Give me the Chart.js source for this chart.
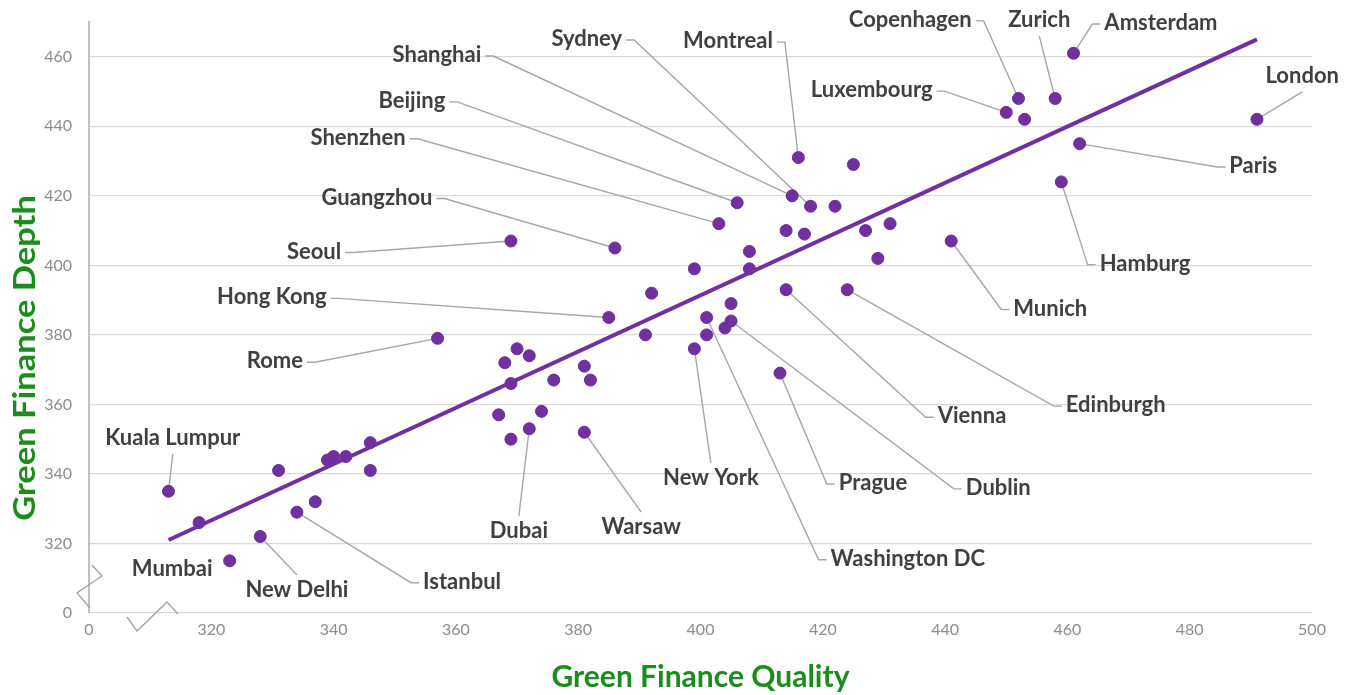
<!DOCTYPE html>
<html>
<head>
<meta charset="utf-8">
<script src="https://cdn.jsdelivr.net/npm/chart.js@4.4.0/dist/chart.umd.min.js"></script>
<style>
  body { margin: 0; background: #fff; }
  .chart-container { width: 1357px; height: 695px; }
</style>
</head>
<body>
<div class="chart-container"><canvas id="chart"></canvas></div>
<script>
/*
Values. Quality goes on x, depth on y.
*/
let cities = ["Kuala Lumpur", "Mumbai", "New Delhi", "Istanbul", "Rome", "Seoul", "Hong Kong",
              "Guangzhou", "Shenzhen", "Beijing", "Shanghai", "Sydney", "Montreal", "Copenhagen",
              "Zurich", "Amsterdam", "Luxembourg", "London", "Paris", "Hamburg", "Munich",
              "Edinburgh", "Vienna", "Dublin", "Prague", "Washington DC", "New York", "Warsaw", "Dubai"];
let cityQuality = [313, 323, 328, 334, 357, 369, 385, 386, 403, 406, 415, 418, 416, 452,
                   458, 461, 450, 491, 462, 459, 441, 424, 414, 405, 413, 401, 399, 381, 372];
let cityDepth = [335, 315, 322, 329, 379, 407, 385, 405, 412, 418, 420, 417, 431, 448,
                 448, 461, 444, 442, 435, 424, 407, 393, 393, 384, 369, 385, 376, 352, 353];

// where each name sits, in axis units, and the side its leader line leaves from
let nameQuality = [313.7, 313.6, 334.0, 361.0, 330.4, 336.8, 329.9, 347.1, 344.0, 352.8, 356.9, 381.4, 404.5, 434.3,
                   455.4, 475.3, 428.0, 498.4, 490.4, 472.7, 457.2, 467.9, 444.4, 448.7, 428.2, 433.9, 401.7, 390.3, 370.3];
let nameDepth = [350.3, 312.7, 306.7, 309.0, 372.4, 404.0, 390.8, 419.5, 436.7, 447.3, 460.5, 465.1, 464.5, 470.6,
                 470.6, 469.7, 450.4, 454.5, 428.6, 400.5, 387.6, 359.8, 356.6, 336.0, 337.4, 315.6, 338.8, 324.7, 323.6];
let nameSide = ["b", "n", "t", "l", "r", "r", "r", "r", "r", "r", "r", "r", "r", "r",
                "b", "l", "r", "b", "l", "l", "l", "l", "l", "l", "l", "l", "t", "t", "t"];

// the cities without a name on the chart
let otherQuality = [318, 331, 337, 339, 340, 342, 346, 346, 367, 369, 374, 368, 370, 372, 369, 376, 381,
                    382, 391, 392, 399, 408, 408, 404, 405, 401, 414, 417, 422, 425, 427, 431, 429, 453];
let otherDepth = [326, 341, 332, 344, 345, 345, 349, 341, 357, 350, 358, 372, 376, 374, 366, 367, 371,
                  367, 380, 392, 399, 404, 399, 382, 389, 380, 410, 409, 417, 429, 410, 412, 402, 442];

// trend line ends
let trendQuality = [313, 491];
let trendDepth = [321, 465];

let purple = "#7030a0";
let green = "#1c8c1c";
let labelFont = "bold 22px Lato";

function toPoints(xs, ys) {
  let pts = [];
  for (let i = 0; i < xs.length; i++) {
    pts.push({x: xs[i], y: ys[i]});
  }
  return pts;
}

// axes start at 300 but Excel printed them as 0 with a break
function tickText(value) {
  return value === 300 ? "0" : value;
}

// names and their leader lines
function drawNames(chart, linesOnly) {
  let ctx = chart.ctx;
  let xs = chart.scales.x, ys = chart.scales.y;
  ctx.save();
  ctx.font = labelFont;
  for (let i = 0; i < cities.length; i++) {
    let px = xs.getPixelForValue(cityQuality[i]);
    let py = ys.getPixelForValue(cityDepth[i]);
    let lx = xs.getPixelForValue(nameQuality[i]);
    let ly = ys.getPixelForValue(nameDepth[i]);
    let w = ctx.measureText(cities[i]).width;

    if (linesOnly) {
      let side = nameSide[i];
      if (side === "n") continue;
      ctx.strokeStyle = "#a6a6a6";
      ctx.lineWidth = 1.4;
      ctx.beginPath();
      if (side === "r") {
        ctx.moveTo(lx + w / 2 + 4, ly + 1);
        ctx.lineTo(lx + w / 2 + 12, ly + 1);
      } else if (side === "l") {
        ctx.moveTo(lx - w / 2 - 4, ly + 1);
        ctx.lineTo(lx - w / 2 - 12, ly + 1);
      } else if (side === "t") {
        ctx.moveTo(lx, ly - 15);
      } else {
        ctx.moveTo(lx, ly + 16);
      }
      ctx.lineTo(px, py);
      ctx.stroke();
    } else {
      ctx.fillStyle = "#404040";
      ctx.textAlign = "center";
      ctx.textBaseline = "middle";
      ctx.fillText(cities[i], lx, ly);
    }
  }
  ctx.restore();
}

let namePlugin = {
  id: "names",
  beforeDatasetsDraw(chart) { drawNames(chart, true); },
  afterDatasetsDraw(chart) { drawNames(chart, false); }
};

// axis titles and the little zigzag breaks in the corner
let decoPlugin = {
  id: "deco",
  afterDraw(chart) {
    let ctx = chart.ctx;
    let a = chart.chartArea;
    ctx.save();
    ctx.fillStyle = green;
    ctx.font = "bold 30px Lato";
    ctx.textAlign = "center";
    ctx.textBaseline = "middle";
    ctx.fillText("Green Finance Quality", (a.left + a.right) / 2, 677);
    ctx.translate(25, 358);
    ctx.rotate(-Math.PI / 2);
    ctx.scale(1.15, 1);
    ctx.fillText("Green Finance Depth", 0, 0);
    ctx.restore();

    ctx.save();
    ctx.strokeStyle = "#a0a0a0";
    ctx.lineWidth = 1.3;
    ctx.beginPath();
    ctx.moveTo(a.left + 3, a.bottom - 48);
    ctx.lineTo(a.left + 13, a.bottom - 37);
    ctx.lineTo(a.left - 12, a.bottom - 20);
    ctx.lineTo(a.left + 1, a.bottom - 5);
    ctx.moveTo(a.left + 38, a.bottom + 4);
    ctx.lineTo(a.left + 48, a.bottom + 18);
    ctx.lineTo(a.left + 78, a.bottom - 11);
    ctx.lineTo(a.left + 89, a.bottom + 1);
    ctx.stroke();
    ctx.restore();
  }
};

let canvas = document.getElementById("chart");

new Chart(canvas, {
  type: "scatter",
  data: {
    datasets: [
      {
        type: "line",
        label: "Trend",
        data: toPoints(trendQuality, trendDepth),
        borderColor: purple,
        borderWidth: 4,
        pointRadius: 0,
        fill: false,
        order: 0
      },
      {
        label: "Named cities",
        data: toPoints(cityQuality, cityDepth),
        backgroundColor: purple,
        borderColor: "#6a2c98",
        borderWidth: 1,
        pointRadius: 6,
        order: 1
      },
      {
        label: "Other cities",
        data: toPoints(otherQuality, otherDepth),
        backgroundColor: purple,
        borderColor: "#6a2c98",
        borderWidth: 1,
        pointRadius: 6,
        order: 1
      }
    ]
  },
  options: {
    responsive: true,
    maintainAspectRatio: false,
    animation: false,
    layout: { autoPadding: false, padding: { top: 22, right: 45, left: 0, bottom: 0 } },
    plugins: {
      legend: { display: false },
      tooltip: { enabled: false }
    },
    scales: {
      x: {
        type: "linear",
        min: 300,
        max: 500,
        afterFit: function(scale) { scale.height = 82; },
        grid: { display: false, drawTicks: false },
        border: { display: false },
        ticks: {
          stepSize: 20,
          padding: 7,
          color: "#8c8c8c",
          font: { family: "Lato", size: 16 },
          callback: tickText
        }
      },
      y: {
        type: "linear",
        min: 300,
        max: 470,
        afterFit: function(scale) {
          scale.width = 89;
          // the tick padding should not push the plot down from the top
          scale.paddingTop = 0;
          scale.paddingBottom = 0;
        },
        grid: { color: "#d9d9d9", lineWidth: 1.3, drawTicks: false },
        border: { display: true, color: "#bfbfbf", width: 2 },
        ticks: {
          stepSize: 20,
          includeBounds: false,
          padding: 17,
          color: "#8c8c8c",
          font: { family: "Lato", size: 16 },
          callback: tickText
        }
      }
    }
  },
  plugins: [namePlugin, decoPlugin]
});
</script>
</body>
</html>
